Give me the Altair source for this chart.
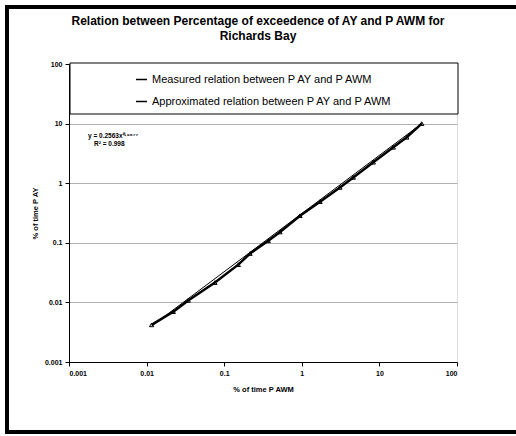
import altair as alt
import pandas as pd

# Measured relation
measured_x = [0.0116, 0.0221, 0.0344, 0.076, 0.152, 0.215, 0.370, 0.524, 0.948, 1.72, 3.10, 4.61, 8.35, 15.1, 22.5, 35.1]
measured_y = [0.0042, 0.0070, 0.0108, 0.0215, 0.0430, 0.0660, 0.108, 0.152, 0.285, 0.49, 0.85, 1.25, 2.25, 4.0, 5.9, 10.0]

# Approximated (power) relation, end points
approx_x = [0.0116, 35.1]
approx_y = [0.0040, 10.0]

series_names = ["Measured relation between P AY and P AWM",
                "Approximated relation between P AY and P AWM"]

ticks = [0.001, 0.01, 0.1, 1, 10, 100]

eq_x = [0.00176, 0.0021]
eq_y = [6.3, 4.6]
eq_text = ["y = 0.2563x\u2070\u00b7\u2079\u2076\u2077\u2077", "R\u00b2 = 0.998"]

FONT = "Liberation Sans"

df_m = pd.DataFrame({"x": measured_x, "y": measured_y, "series": series_names[0]})
df_a = pd.DataFrame({"x": approx_x, "y": approx_y, "series": series_names[1]})
df_t = pd.DataFrame({"x": eq_x, "y": eq_y, "t": eq_text})

xscale = alt.Scale(type="log", domain=[0.001, 100])
yscale = alt.Scale(type="log", domain=[0.001, 100])
cscale = alt.Scale(domain=series_names, range=["black", "black"])

axis_style = dict(
    format="~g", values=ticks, domainColor="black", tickColor="black", tickSize=4,
    labelFont=FONT, labelFontSize=7, labelFontWeight="bold", labelColor="black",
    labelPadding=3, titleFont=FONT, titleFontSize=7.5, titleFontWeight="bold",
    titleColor="black", gridColor="#b0b0b0", gridWidth=1,
)

xenc = alt.X("x:Q", scale=xscale,
             axis=alt.Axis(grid=False, title="% of time P AWM", titlePadding=9, **axis_style))
yenc = alt.Y("y:Q", scale=yscale,
             axis=alt.Axis(grid=True, title="% of time P AY", titlePadding=5, **axis_style))

frame = alt.Chart(pd.DataFrame({"a": [0]})).mark_rect(
    fill="transparent", stroke="black", strokeWidth=4
).encode(x=alt.value(-62), x2=alt.value(470), y=alt.value(-57), y2=alt.value(368))

measured = alt.Chart(df_m).mark_line(
    strokeWidth=2.5,
    point=alt.OverlayMarkDef(shape="triangle-up", filled=False, size=18, stroke="black", strokeWidth=1)
).encode(
    x=xenc, y=yenc,
    color=alt.Color("series:N", scale=cscale, sort=series_names,
                    legend=alt.Legend(title=None, orient="none", legendX=66, legendY=9,
                                      symbolType="stroke", symbolStrokeWidth=1.5, symbolSize=120,
                                      labelFontSize=11, labelFont=FONT, rowPadding=10,
                                      labelLimit=400))
)

approx = alt.Chart(df_a).mark_line(strokeWidth=1).encode(
    x=alt.X("x:Q", scale=xscale), y=alt.Y("y:Q", scale=yscale),
    color=alt.Color("series:N", scale=cscale, sort=series_names)
)

legend_box = alt.Chart(pd.DataFrame({"a": [0]})).mark_rect(
    fill="white", stroke="black", strokeWidth=1
).encode(x=alt.value(1), x2=alt.value(389), y=alt.value(-1), y2=alt.value(50))

eq = alt.Chart(df_t).mark_text(align="left", fontSize=6.5, font=FONT, fontWeight="bold").encode(
    x=alt.X("x:Q", scale=xscale), y=alt.Y("y:Q", scale=yscale), text="t:N"
)

chart = alt.layer(frame, legend_box, measured, approx, eq).properties(
    width=388, height=298,
    title=alt.TitleParams(
        ["Relation between Percentage of exceedence of AY and P AWM for", "Richards Bay"],
        fontSize=12, font=FONT, fontWeight="bold", anchor="middle",
        frame="group", offset=-38, dx=-5, lineHeight=15, color="black"),
    autosize=alt.AutoSizeParams(type="none"),
    padding={"left": 69, "top": 64, "right": 59, "bottom": 74},
).configure_view(stroke=None).configure(background="white")

chart.save("out.html", embed_options={"renderer": "svg", "actions": False})
